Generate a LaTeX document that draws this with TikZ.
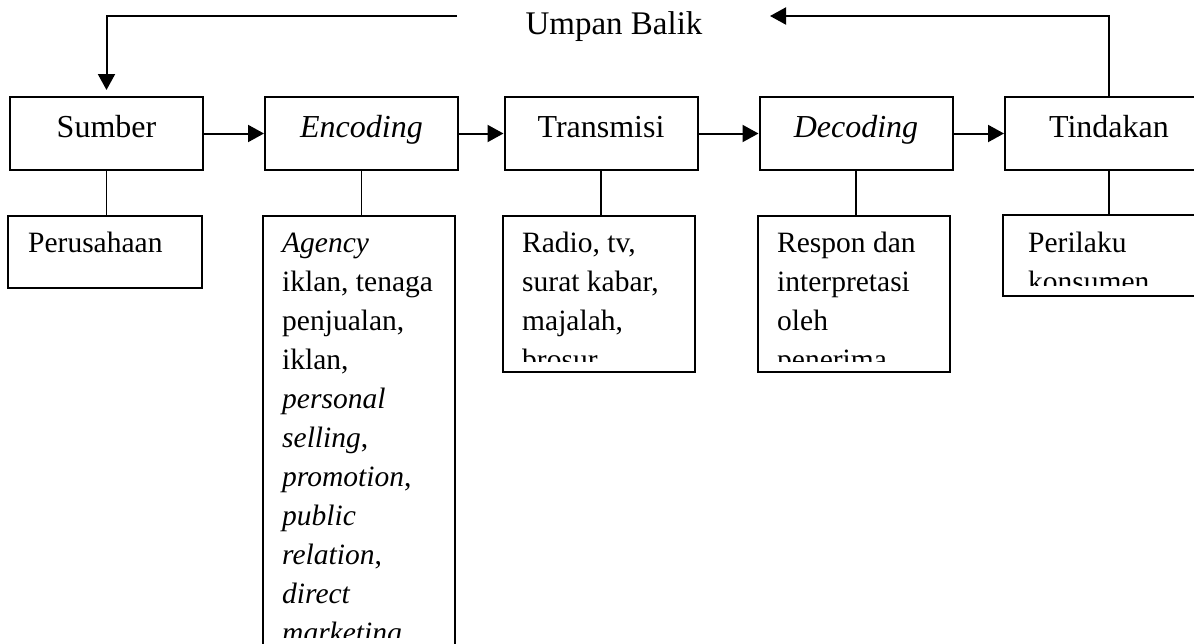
\documentclass[tikz,border=0pt]{standalone}
\usepackage{fontspec}
\setmainfont{Liberation Serif}
\usepackage{tikz}
\usetikzlibrary{calc,arrows.meta}

\begin{document}
\begin{tikzpicture}[x=1pt,y=-1pt]
        \tikzstyle{box}=[draw,line width=2pt,minimum width=193pt,minimum height=73pt,inner sep=0pt,text height=22pt,text depth=15pt,font=\fontsize{32}{38}\selectfont]
        \tikzstyle{detail}=[draw,line width=2pt,inner sep=0pt]
        \tikzstyle{lines}=[inner sep=0pt,anchor=base west,font=\fontsize{29.5}{39}\selectfont]
        \tikzstyle{arr}=[line width=2pt,-{Triangle[length=16pt,width=17pt]}]
        \tikzstyle{link}=[line width=1.3pt]

        \clip (0,0) rectangle (1194,643);
        \fill[white] (0,0) rectangle (1194,643);

        % top row
        \node[box] (sumber) at (106.5,133.5) {Sumber};
        \node[box] (encoding) at ($(sumber)+(255,0)$) {\textit{Encoding}};
        \node[box] (transmisi) at ($(encoding)+(239.5,0)$) {Transmisi};
        \node[box] (decoding) at ($(transmisi)+(255,0)$) {\textit{Decoding}};
        \node[box,minimum width=208pt] (tindakan) at ($(decoding)+(253,0)$) {Tindakan};

        \draw[arr] (sumber.east) -- (encoding.west);
        \draw[arr] (encoding.east) -- (transmisi.west);
        \draw[arr] (transmisi.east) -- (decoding.west);
        \draw[arr] (decoding.east) -- (tindakan.west);

        % bottom row
        \node[detail,minimum width=194pt,minimum height=72pt] (perusahaan) at ($(sumber)+(-1.5,118.5)$) {};
        \node[detail,minimum width=192pt,minimum height=444pt] (agency) at ($(encoding)+(-2.5,304.5)$) {};
        \node[detail,minimum width=192pt,minimum height=156pt] (media) at ($(transmisi)+(-2,160.5)$) {};
        \node[detail,minimum width=192pt,minimum height=156pt] (respon) at ($(decoding)+(-2,160.5)$) {};
        \node[detail,minimum width=208pt,minimum height=81pt] (perilaku) at ($(tindakan)+(-2,122)$) {};

        \draw[link] (sumber.south) -- (sumber.south |- perusahaan.north);
        \draw[link] (encoding.south) -- (encoding.south |- agency.north);
        \draw[link] (transmisi.south) -- (transmisi.south |- media.north);
        \draw[link] (decoding.south) -- (decoding.south |- respon.north);
        \draw[link] (tindakan.south) -- (tindakan.south |- perilaku.north);

        % texts of the bottom boxes, cut off at the box bottom
        \begin{scope}
            \clip (perusahaan.north west) rectangle ($(perusahaan.south east)+(0,-12)$);
            \node[lines] (perusahaan-t) at ($(perusahaan.north west)+(21,37)$) {Perusahaan};
        \end{scope}
        \begin{scope}
            \clip (agency.north west) rectangle ($(agency.south east)+(0,-24)$);
            \node[lines] (agency-t) at ($(agency.north west)+(20,37)$) {\begin{tabular}[t]{@{}l@{}}
                \textit{Agency}\\ iklan, tenaga\\ penjualan,\\ iklan,\\ \textit{personal}\\ \textit{selling},\\
                \textit{promotion},\\ \textit{public}\\ \textit{relation},\\ \textit{direct}\\ \textit{marketing}
            \end{tabular}};
        \end{scope}
        \begin{scope}
            \clip (media.north west) rectangle ($(media.south east)+(0,-12)$);
            \node[lines] (media-t) at ($(media.north west)+(20,37)$) {\begin{tabular}[t]{@{}l@{}}
                Radio, tv,\\ surat kabar,\\ majalah,\\ brosur
            \end{tabular}};
        \end{scope}
        \begin{scope}
            \clip (respon.north west) rectangle ($(respon.south east)+(0,-12)$);
            \node[lines] (respon-t) at ($(respon.north west)+(20,37)$) {\begin{tabular}[t]{@{}l@{}}
                Respon dan\\ interpretasi\\ oleh\\ penerima
            \end{tabular}};
        \end{scope}
        \begin{scope}
            \clip (perilaku.north west) rectangle ($(perilaku.south east)+(0,-12)$);
            \node[lines] (perilaku-t) at ($(perilaku.north west)+(26,38)$) {\begin{tabular}[t]{@{}l@{}}
                Perilaku\\ konsumen
            \end{tabular}};
        \end{scope}

        % feedback
        \node[font=\fontsize{33}{40}\selectfont,inner sep=0pt,anchor=base] (umpan) at (614,34) {Umpan Balik};
        \coordinate (fbleft) at (457,16);
        \coordinate (fbright) at (770,16);
        \draw[arr] (tindakan.north) |- (fbright);
        \draw[arr] (fbleft) -| ($(sumber.north)+(0,-6)$);

\end{tikzpicture}
\end{document}
